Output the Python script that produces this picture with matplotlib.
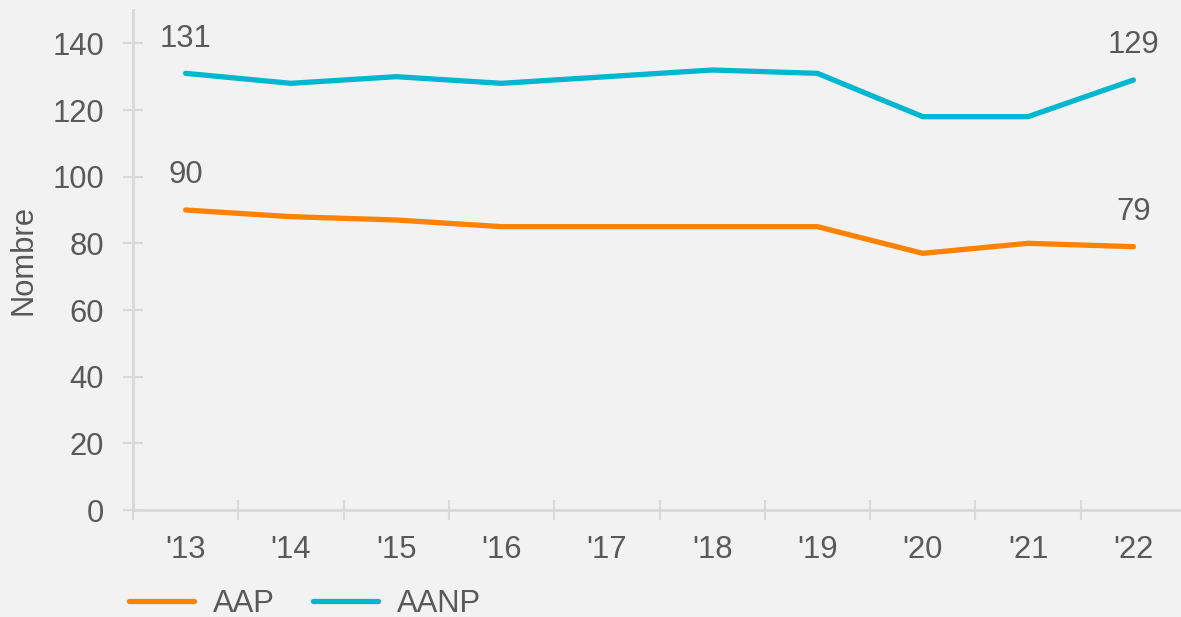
import matplotlib
matplotlib.use("Agg")
import matplotlib.pyplot as plt
from matplotlib.ticker import FixedLocator, NullFormatter

years = ["'13", "'14", "'15", "'16", "'17", "'18", "'19", "'20", "'21", "'22"]
aap = [90, 88, 87, 85, 85, 85, 85, 77, 80, 79]
aanp = [131, 128, 130, 128, 130, 132, 131, 118, 118, 129]
series_names = ["AAP", "AANP"]
colors = ["#ff8200", "#00b7cf"]
yticks = [0, 20, 40, 60, 80, 100, 120, 140]

plt.rcParams['font.family'] = ['Liberation Sans', 'DejaVu Sans']
txt = "#595959"
grid = "#d9d9d9"
bg = "#f2f2f2"
fs = 22.3

W, H = 1181, 617
fig = plt.figure(figsize=(W / 100, H / 100), dpi=100, facecolor=bg)
ax = fig.add_axes([133 / W, 107 / H, 1053 / W, 500 / H], facecolor=bg)

x = list(range(len(years)))
l1, = ax.plot(x, aap, color=colors[0], lw=3.8, solid_capstyle='round', solid_joinstyle='round', label=series_names[0])
l2, = ax.plot(x, aanp, color=colors[1], lw=3.8, solid_capstyle='round', solid_joinstyle='round', label=series_names[1])

ax.set_xlim(-0.5, len(years) - 0.5)
ax.set_ylim(0, 150)

for s in ['top', 'right']:
    ax.spines[s].set_visible(False)
for s in ['left', 'bottom']:
    ax.spines[s].set_color(grid)
    ax.spines[s].set_linewidth(2)

ax.set_yticks(yticks)
ax.tick_params(axis='y', direction='inout', length=13.7, width=1.5, color=grid,
               labelsize=fs, labelcolor=txt, pad=14)
ax.set_xticks(x)
ax.set_xticklabels(years)
ax.tick_params(axis='x', which='major', length=0, labelsize=fs, labelcolor=txt, pad=18)
ax.xaxis.set_minor_locator(FixedLocator([i - 0.5 for i in range(len(years) + 1)]))
ax.xaxis.set_minor_formatter(NullFormatter())
ax.tick_params(axis='x', which='minor', direction='inout', length=13.7, width=1.5, color=grid)

ax.set_ylabel("Nombre", fontsize=fs, color=txt)
ax.yaxis.set_label_coords(-95 / 1053, 0.5)

# data labels at first and last points
for vals in (aap, aanp):
    for i in (0, len(vals) - 1):
        ax.annotate(str(vals[i]), (x[i], vals[i]), xytext=(0, 25), textcoords='offset points',
                    ha='center', va='center', fontsize=fs, color=txt)

fig.legend(handles=[l1, l2], loc='center left', bbox_to_anchor=(129 / W, 13 / H),
           frameon=False, fontsize=fs, labelcolor=txt, handlelength=2.1,
           handletextpad=0.6, columnspacing=1.25, ncol=2, borderpad=0, borderaxespad=0)

fig.savefig("out.png", dpi=100, facecolor=bg)
